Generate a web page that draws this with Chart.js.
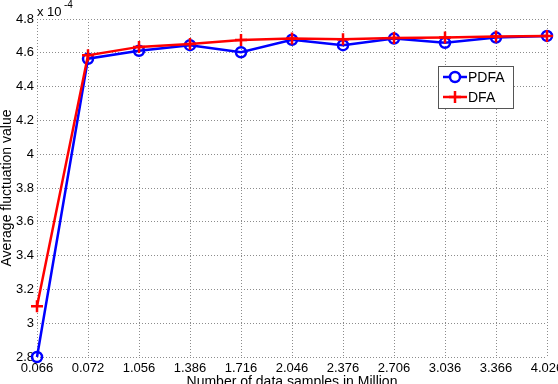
<!DOCTYPE html>
<html>
<head>
<meta charset="utf-8">
<script src="https://cdn.jsdelivr.net/npm/chart.js@4"></script>
<style>
  html, body { margin: 0; padding: 0; background: #fff; }
  #wrap { width: 558px; height: 384px; position: relative; }
</style>
</head>
<body>
<div id="wrap"><canvas id="fluct"></canvas></div>
<script>
// data (values in units of 1e-4)
const samples = ['0.066', '0.072', '1.056', '1.386', '1.716', '2.046', '2.376', '2.706', '3.036', '3.366', '4.026'];
const pdfa = [2.80, 4.565, 4.612, 4.645, 4.603, 4.677, 4.645, 4.684, 4.659, 4.690, 4.700];
const dfa = [3.10, 4.585, 4.635, 4.652, 4.676, 4.684, 4.680, 4.688, 4.690, 4.697, 4.700];
const yMin = 2.8, yMax = 4.8, yStep = 0.2;

const FONT = 'Liberation Sans, Arial, Helvetica, sans-serif';

// MATLAB-like legend box, axis titles and exponent label
const decorations = {
    id: 'decorations',
    afterDraw(chart) {
        const ctx = chart.ctx;
        const area = chart.chartArea;
        ctx.save();

        // exponent
        ctx.fillStyle = '#000';
        ctx.textBaseline = 'middle';
        ctx.textAlign = 'left';
        ctx.font = '13px ' + FONT;
        ctx.fillText('x 10', area.left, 12);
        ctx.font = '10px ' + FONT;
        ctx.fillText('-4', area.left + 27, 5);

        // axis titles
        ctx.font = '14px ' + FONT;
        ctx.textAlign = 'center';
        ctx.fillText('Number of data samples in Million', (area.left + area.right) / 2, 382);
        ctx.save();
        ctx.translate(7, (area.top + area.bottom) / 2);
        ctx.rotate(-Math.PI / 2);
        ctx.fillText('Average fluctuation value', 0, 0);
        ctx.restore();

        // legend
        const bx = 438, by = 66, bw = 75, bh = 42;
        ctx.fillStyle = '#fff';
        ctx.fillRect(bx, by, bw, bh);
        ctx.strokeStyle = '#555';
        ctx.lineWidth = 1;
        ctx.setLineDash([]);
        ctx.strokeRect(bx + 0.5, by + 0.5, bw, bh);
        chart.data.datasets.forEach((d, i) => {
            const y = by + 11 + i * 20;
            ctx.strokeStyle = d.borderColor;
            ctx.lineWidth = d.borderWidth;
            ctx.beginPath();
            ctx.moveTo(bx + 5, y);
            ctx.lineTo(bx + 29, y);
            ctx.stroke();
            ctx.strokeStyle = d.pointBorderColor;
            Chart.helpers.drawPoint(ctx, {
                pointStyle: d.pointStyle,
                radius: d.pointRadius,
                borderWidth: d.pointBorderWidth,
                rotation: 0
            }, bx + 17, y);
            ctx.fillStyle = '#000';
            ctx.textAlign = 'left';
            ctx.font = '14px ' + FONT;
            ctx.fillText(d.label, bx + 30, y + 1);
        });
        ctx.restore();
    }
};

const tickFont = { family: FONT, size: 13 };

new Chart(document.getElementById('fluct'), {
    type: 'line',
    data: {
        labels: samples,
        datasets: [{
            label: 'PDFA',
            data: pdfa,
            borderColor: '#0000ff',
            backgroundColor: 'rgba(0,0,0,0)',
            borderWidth: 2.5,
            pointStyle: 'circle',
            pointRadius: 5,
            pointBorderWidth: 2.5,
            pointBorderColor: '#0000ff',
            pointBackgroundColor: 'rgba(0,0,0,0)',
            tension: 0,
            clip: false,
            order: 1
        }, {
            label: 'DFA',
            data: dfa,
            borderColor: '#ff0000',
            backgroundColor: 'rgba(0,0,0,0)',
            borderWidth: 2.5,
            pointStyle: 'cross',
            pointRadius: 6,
            pointBorderWidth: 2.5,
            pointBorderColor: '#ff0000',
            tension: 0,
            clip: false,
            order: 0
        }]
    },
    options: {
        responsive: true,
        maintainAspectRatio: false,
        animation: false,
        events: [],
        layout: { padding: { top: 19, right: 11, left: 0, bottom: 0 } },
        plugins: {
            legend: { display: false },
            tooltip: { enabled: false }
        },
        scales: {
            x: {
                offset: false,
                grid: { color: '#8c8c8c', lineWidth: 1, drawTicks: false },
                // in v4 border.dash also dashes the grid lines
                border: { display: false, dash: [1, 2] },
                ticks: {
                    color: '#000',
                    font: tickFont,
                    padding: 4,
                    maxRotation: 0,
                    autoSkip: false
                },
                afterFit(scale) {
                    scale.height = 27;
                    scale.paddingLeft = 0;
                    scale.paddingRight = 0;
                }
            },
            y: {
                min: yMin,
                max: yMax,
                grid: { color: '#8c8c8c', lineWidth: 1, drawTicks: false },
                border: { display: false, dash: [1, 2] },
                ticks: {
                    stepSize: yStep,
                    color: '#000',
                    font: tickFont,
                    padding: 3,
                    callback: v => String(parseFloat(v.toFixed(1)))
                },
                afterFit(scale) {
                    scale.width = 37;
                    scale.paddingTop = 0;
                    scale.paddingBottom = 0;
                }
            }
        }
    },
    plugins: [decorations]
});
</script>
</body>
</html>
